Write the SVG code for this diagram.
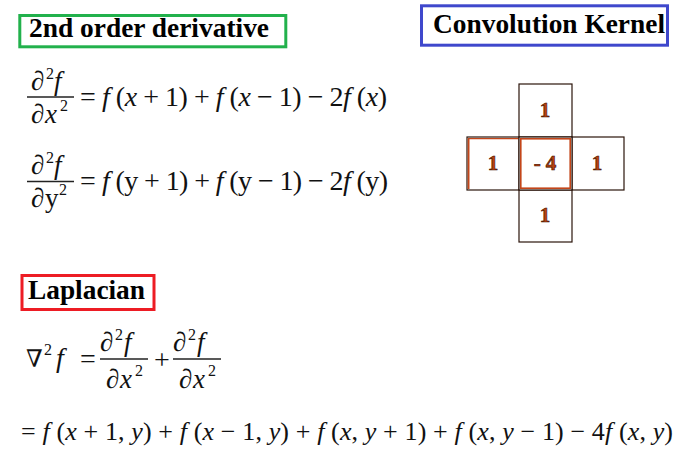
<svg xmlns="http://www.w3.org/2000/svg" width="692" height="463" viewBox="0 0 692 463">
<style>
text{font-family:'Liberation Serif','DejaVu Serif',serif;fill:#111}
.ttl{font-weight:bold;font-size:27px;fill:#000}
.m{font-size:28px}
.fr{font-size:27px}
.sup{font-size:16px}
.i{font-style:italic}
.bar{stroke:#222;stroke-width:1.3}
.cell{fill:#fff;stroke:#2b140a;stroke-width:1.2}
.celli{fill:none;stroke:#c4461a;stroke-width:1.6}
.num{font-weight:bold;font-size:21px;fill:#b8420f;stroke:#3a1000;stroke-width:0.6;text-anchor:middle}
</style>
<rect width="692" height="463" fill="#fff"/>

<g id="title-derivative">
<rect x="19.8" y="15.5" width="266" height="31.3" fill="none" stroke="#22b14c" stroke-width="3"/>
<text class="ttl" x="29" y="37" textLength="240" lengthAdjust="spacingAndGlyphs">2nd order derivative</text>
</g>

<g id="title-kernel">
<rect x="421.5" y="5.8" width="246" height="39.4" fill="none" stroke="#3f48cc" stroke-width="3"/>
<text class="ttl" x="433" y="33" textLength="232" lengthAdjust="spacingAndGlyphs">Convolution Kernel</text>
</g>

<g id="eq-dx">
<text class="fr i" x="31" y="90">∂</text><text class="sup" x="46" y="79">2</text><text class="fr i" x="54" y="90">f</text>
<line class="bar" x1="27" y1="97" x2="74" y2="97"/>
<text class="fr i" x="31" y="123">∂</text><text class="fr i" x="45" y="123">x</text><text class="sup" x="60" y="111">2</text>
<text class="m" x="80" y="106">=</text>
<text class="m" x="102" y="106" textLength="285" lengthAdjust="spacing"><tspan class="i">f</tspan> (<tspan class="i">x</tspan> + 1) + <tspan class="i">f</tspan> (<tspan class="i">x</tspan> − 1) − 2<tspan class="i">f</tspan> (<tspan class="i">x</tspan>)</text>
</g>

<g id="eq-dy">
<text class="fr i" x="31" y="174">∂</text><text class="sup" x="46" y="163">2</text><text class="fr i" x="54" y="174">f</text>
<line class="bar" x1="27" y1="181.5" x2="74" y2="181.5"/>
<text class="fr i" x="31" y="207">∂</text><text class="fr" x="45" y="207">y</text><text class="sup" x="59" y="195">2</text>
<text class="m" x="80" y="190">=</text>
<text class="m" x="102" y="190" textLength="286" lengthAdjust="spacing"><tspan class="i">f</tspan> (y + 1) + <tspan class="i">f</tspan> (y − 1) − 2<tspan class="i">f</tspan> (y)</text>
</g>

<g id="kernel">
<rect class="cell" x="519" y="84" width="53" height="53"/>
<rect class="cell" x="467" y="137" width="52" height="53"/>
<rect class="cell" x="572" y="137" width="52" height="53"/>
<rect class="cell" x="519" y="190" width="53" height="52"/>
<line x1="468.6" y1="138.5" x2="468.6" y2="189" stroke="#c4461a" stroke-width="1.8"/>
<line x1="468" y1="138.6" x2="519" y2="138.6" stroke="#c4461a" stroke-width="1.4"/>
<rect class="cell" x="519" y="137" width="53" height="53" stroke-width="2"/>
<rect class="celli" x="520.8" y="138.8" width="49.4" height="49.4"/>
<text class="num" x="545" y="117">1</text>
<text class="num" x="493" y="170">1</text>
<text class="num" x="545" y="170">- 4</text>
<text class="num" x="597" y="170">1</text>
<text class="num" x="545" y="222">1</text>
</g>

<g id="title-laplacian">
<rect x="22" y="275.5" width="132" height="34" fill="none" stroke="#ed1c24" stroke-width="3"/>
<text class="ttl" x="28" y="299" textLength="117" lengthAdjust="spacingAndGlyphs">Laplacian</text>
</g>

<g id="eq-laplacian">
<text x="26" y="367" font-size="24">∇</text><text class="sup" x="44" y="355">2</text><text class="m i" x="56" y="367">f</text>
<text class="m" x="80" y="368">=</text>
<text class="fr i" x="100" y="351">∂</text><text class="sup" x="115" y="340">2</text><text class="fr i" x="124" y="351">f</text>
<line class="bar" x1="100" y1="359" x2="148" y2="359"/>
<text class="fr i" x="106" y="388">∂</text><text class="fr i" x="120" y="388">x</text><text class="sup" x="135" y="376">2</text>
<text class="m" x="154" y="369">+</text>
<text class="fr i" x="173" y="351">∂</text><text class="sup" x="188" y="340">2</text><text class="fr i" x="197" y="351">f</text>
<line class="bar" x1="173" y1="359" x2="221" y2="359"/>
<text class="fr i" x="179" y="388">∂</text><text class="fr i" x="193" y="388">x</text><text class="sup" x="208" y="376">2</text>
</g>

<g id="eq-expanded">
<text x="21" y="440" font-size="26" textLength="652" lengthAdjust="spacing">= <tspan class="i">f</tspan> (<tspan class="i">x</tspan> + 1, <tspan class="i">y</tspan>) + <tspan class="i">f</tspan> (<tspan class="i">x</tspan> − 1, <tspan class="i">y</tspan>) + <tspan class="i">f</tspan> (<tspan class="i">x</tspan>, <tspan class="i">y</tspan> + 1) + <tspan class="i">f</tspan> (<tspan class="i">x</tspan>, <tspan class="i">y</tspan> − 1) − 4<tspan class="i">f</tspan> (<tspan class="i">x</tspan>, <tspan class="i">y</tspan>)</text>
</g>
</svg>
